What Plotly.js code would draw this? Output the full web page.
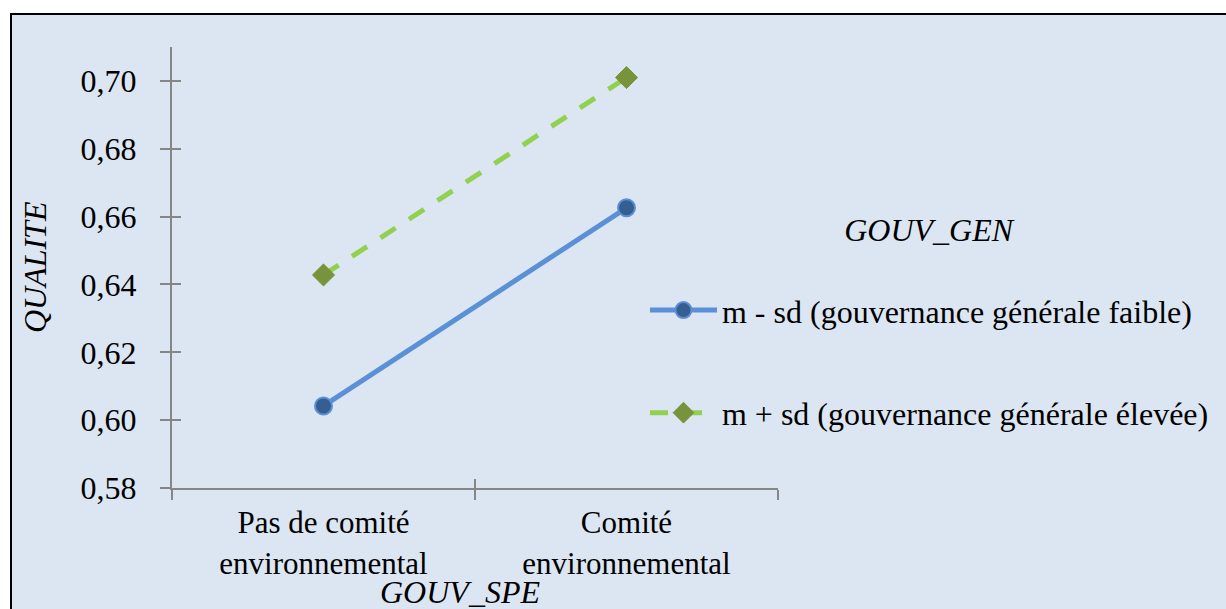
<!DOCTYPE html>
<html>
<head>
<meta charset="utf-8">
<script src="https://cdn.plot.ly/plotly-3.0.1.min.js"></script>
<style>
  html, body { margin: 0; padding: 0; background: #ffffff; font-family: 'Liberation Serif'; }
  #frame {
    position: absolute; left: 10px; top: 13px;
    border-top: 2px solid #000; border-left: 2px solid #000;
    width: 1214px; height: 594px; overflow: hidden;
  }
  #chart { width: 1214px; height: 594px; }
</style>
</head>
<body>
<div id="frame"><div id="chart"></div></div>
<script>
// ---- data ----
const categories = ["Pas de comité<br>environnemental", "Comité<br>environnemental"];
const seriesNames = ["m - sd (gouvernance générale faible)", "m + sd (gouvernance générale élevée)"];
const lowGov = [0.6042, 0.6626];
const highGov = [0.6428, 0.7010];
const yTicks = [0.58, 0.60, 0.62, 0.64, 0.66, 0.68, 0.70];
const yRange = [0.58, 0.71];
const boundaryTicks = [-0.5, 0.5, 1.5];

const FONT = "Liberation Serif";
const BG = "#dce6f2";
const AXIS = "#868686";

const traces = [
  {
    x: categories, y: lowGov, name: seriesNames[0], type: "scatter", mode: "lines+markers",
    legendgroup: "a",
    line: { color: "#5b8fd6", width: 5 },
    marker: { symbol: "circle", size: 17, color: "#355f91", line: { color: "#5b8fd6", width: 2 } }
  },
  {
    x: categories, y: highGov, name: seriesNames[1], type: "scatter", mode: "lines+markers",
    legendgroup: "b",
    line: { color: "#92d050", width: 5, dash: "18px,16px" },
    marker: { symbol: "diamond", size: 17, color: "#77933c", line: { color: "#77933c", width: 1 } }
  },
  { x: [], y: [], xaxis: "x2", yaxis: "y2", showlegend: false, hoverinfo: "skip", type: "scatter" }
];

const layout = {
  width: 1214, height: 594,
  margin: { l: 160, r: 448, t: 32, b: 121 },
  paper_bgcolor: BG, plot_bgcolor: BG,
  separators: ", ",
  font: { family: FONT, size: 32, color: "#000" },
  showlegend: true,
  legend: {
    x: 0.7805, xanchor: "left", y: 0.654, yanchor: "top",
    bgcolor: "rgba(0,0,0,0)", itemwidth: 67, tracegroupgap: 58,
    font: { family: FONT, size: 32, color: "#000" },
    title: { text: "<i>GOUV_GEN</i><br> ", side: "top center", font: { family: FONT, size: 32, color: "#000" } }
  },
  xaxis: {
    type: "category", range: [-0.5, 1.5], tickson: "boundaries",
    ticks: "outside", ticklen: 10, tickwidth: 1.5, tickcolor: AXIS,
    showline: true, linecolor: AXIS, linewidth: 2, showgrid: false, zeroline: false,
    tickfont: { family: FONT, size: 31, color: "#000" }, ticklabelstandoff: 6, automargin: false
  },
  yaxis: {
    range: yRange, tickvals: yTicks, tickformat: ".2f",
    ticks: "outside", ticklen: 10, tickwidth: 1.5, tickcolor: AXIS,
    showline: true, linecolor: AXIS, linewidth: 2, showgrid: false, zeroline: false,
    tickfont: { family: FONT, size: 32, color: "#000" }, ticklabelstandoff: 17, automargin: false
  },
  xaxis2: {
    overlaying: "x", anchor: "y2", range: [-0.5, 1.5], tickvals: boundaryTicks,
    ticks: "inside", ticklen: 9, tickwidth: 1.5, tickcolor: AXIS,
    showticklabels: false, showline: false, showgrid: false, zeroline: false
  },
  yaxis2: {
    overlaying: "y", anchor: "x2", range: yRange, tickvals: yTicks,
    ticks: "inside", ticklen: 9, tickwidth: 1.5, tickcolor: AXIS,
    showticklabels: false, showline: false, showgrid: false, zeroline: false
  },
  annotations: [
    { text: "<i>QUALITE</i>", xref: "paper", yref: "paper", x: -0.226, y: 0.501,
      xanchor: "center", yanchor: "middle", textangle: -90, showarrow: false,
      font: { family: FONT, size: 32, color: "#000" } },
    { text: "<i>GOUV_SPE</i>", xref: "paper", yref: "paper", x: 0.475, y: -0.235,
      xanchor: "center", yanchor: "middle", showarrow: false,
      font: { family: FONT, size: 32, color: "#000" } }
  ]
};

Plotly.newPlot("chart", traces, layout, { displayModeBar: false });
</script>
</body>
</html>
